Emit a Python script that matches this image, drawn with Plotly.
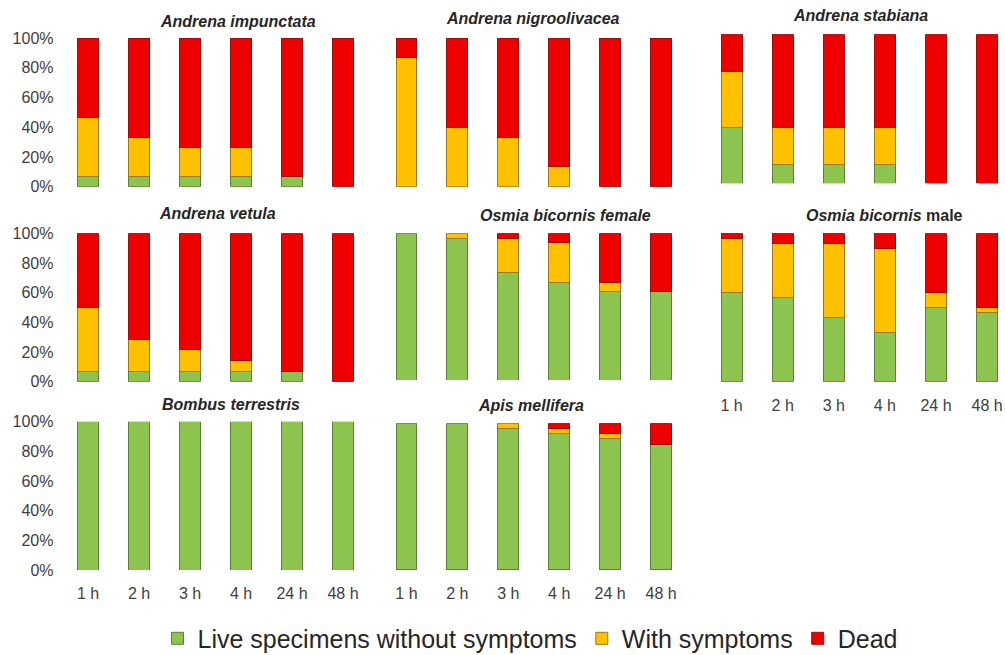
import plotly.graph_objects as go

times = ["1 h", "2 h", "3 h", "4 h", "24 h", "48 h"]
pct_ticks = [0, 20, 40, 60, 80, 100]
pct_labels = ["0%", "20%", "40%", "60%", "80%", "100%"]

titles = [
    "<b><i>Andrena impunctata</i></b>",
    "<b><i>Andrena nigroolivacea</i></b>",
    "<b><i>Andrena stabiana</i></b>",
    "<b><i>Andrena vetula</i></b>",
    "<b><i>Osmia bicornis female</i></b>",
    "<b><i>Osmia bicornis</i> male</b>",
    "<b><i>Bombus terrestris</i></b>",
    "<b><i>Apis mellifera</i></b>",
]

# percentages: live without symptoms, with symptoms, dead
impunctata_live = [6.7, 6.7, 6.7, 6.7, 6.7, 0]
impunctata_sympt = [40.0, 26.7, 20.0, 20.0, 0, 0]
impunctata_dead = [53.3, 66.6, 73.3, 73.3, 93.3, 100]

nigro_live = [0, 0, 0, 0, 0, 0]
nigro_sympt = [86.7, 40.0, 33.3, 13.3, 0, 0]
nigro_dead = [13.3, 60.0, 66.7, 86.7, 100, 100]

stabiana_live = [37.5, 12.5, 12.5, 12.5, 0, 0]
stabiana_sympt = [37.5, 25.0, 25.0, 25.0, 0, 0]
stabiana_dead = [25.0, 62.5, 62.5, 62.5, 100, 100]

vetula_live = [7.1, 7.1, 7.1, 7.1, 7.1, 0]
vetula_sympt = [42.9, 21.4, 14.3, 7.1, 0, 0]
vetula_dead = [50.0, 71.5, 78.6, 85.8, 92.9, 100]

osmia_f_live = [100, 96.7, 73.3, 66.7, 60.0, 60.0]
osmia_f_sympt = [0, 3.3, 23.3, 26.7, 6.7, 0]
osmia_f_dead = [0, 0, 3.4, 6.6, 33.3, 40.0]

osmia_m_live = [60.0, 56.7, 43.3, 33.3, 50.0, 46.7]
osmia_m_sympt = [36.7, 36.6, 50.0, 56.7, 10.0, 3.3]
osmia_m_dead = [3.3, 6.7, 6.7, 10.0, 40.0, 50.0]

bombus_live = [100, 100, 100, 100, 100, 100]
bombus_sympt = [0, 0, 0, 0, 0, 0]
bombus_dead = [0, 0, 0, 0, 0, 0]

apis_live = [100, 100, 96.4, 92.9, 89.3, 85.7]
apis_sympt = [0, 0, 3.6, 3.6, 3.6, 0]
apis_dead = [0, 0, 0, 3.5, 7.1, 14.3]

series_names = ["Live specimens without symptoms", "With symptoms", "Dead"]
colors = ["#8DC450", "#FFC000", "#EE0000"]
edges = ["#5E7F38", "#9A7A10", "#9A1010"]

panels = [
    (impunctata_live, impunctata_sympt, impunctata_dead),
    (nigro_live, nigro_sympt, nigro_dead),
    (stabiana_live, stabiana_sympt, stabiana_dead),
    (vetula_live, vetula_sympt, vetula_dead),
    (osmia_f_live, osmia_f_sympt, osmia_f_dead),
    (osmia_m_live, osmia_m_sympt, osmia_m_dead),
    (bombus_live, bombus_sympt, bombus_dead),
    (apis_live, apis_sympt, apis_dead),
]

W, H = 1005, 655
# pixel layout (left, right, xrange_max)
cols = {1: (62.5, 368.5, 5.5), 2: (381, 686.5, 5.5), 3: (706, 1005, 5.35)}
pos = [
    (1, 38, 186.7), (2, 38, 186.7), (3, 34.3, 183.3),
    (1, 233.3, 381.7), (2, 233.3, 380), (3, 233.3, 381.7),
    (1, 421.7, 570), (2, 423.3, 570),
]
title_pos = [(238, 21), (533, 19), (860, 15), (217, 213), (565, 215), (884, 215), (231, 404), (531, 405)]
show_x = [False, False, False, False, False, True, True, True]
show_y = [True, False, False, True, False, False, True, False]

fig = go.Figure()
layout = {}
for i, (vals, (c, top, bot)) in enumerate(zip(panels, pos)):
    k = i + 1
    xa = "x" if k == 1 else f"x{k}"
    ya = "y" if k == 1 else f"y{k}"
    for s in range(3):
        yv = [v if v > 0 else None for v in vals[s]]
        fig.add_trace(go.Bar(
            x=times, y=yv, name=series_names[s],
            marker=dict(color=colors[s], line=dict(color=edges[s], width=1)),
            xaxis=xa, yaxis=ya, showlegend=(k == 1), legendgroup=series_names[s],
        ))
    l, r, xmax = cols[c]
    layout[f"xaxis{k if k > 1 else ''}"] = dict(
        domain=[l / W, r / W], anchor=ya, range=[-0.5, xmax],
        showticklabels=show_x[i], showline=False, showgrid=False, zeroline=False,
        ticks="", tickfont=dict(size=16, color="#404040"), fixedrange=True,
        automargin=False, ticklabelstandoff=12,
    )
    layout[f"yaxis{k if k > 1 else ''}"] = dict(
        domain=[1 - bot / H, 1 - top / H], anchor=xa, range=[0, 100],
        tickmode="array", tickvals=pct_ticks, ticktext=pct_labels,
        showticklabels=show_y[i], showline=False, showgrid=False, zeroline=False,
        ticks="", tickfont=dict(size=16, color="#404040"), fixedrange=True,
        automargin=False, ticklabelstandoff=8,
    )

annotations = []
for t, (tx, ty) in zip(titles, title_pos):
    annotations.append(dict(
        text=t, x=tx / W, y=1 - ty / H, xref="paper", yref="paper",
        xanchor="center", yanchor="middle", showarrow=False,
        font=dict(size=16, color="#262626", family="Liberation Sans, Arial, sans-serif"),
    ))

fig.update_layout(
    **layout,
    annotations=annotations,
    barmode="stack", bargap=0.59,
    width=W, height=H,
    margin=dict(l=0, r=0, t=0, b=0, autoexpand=False),
    paper_bgcolor="white", plot_bgcolor="white",
    font=dict(family="Liberation Sans, Arial, sans-serif", color="#404040"),
    legend=dict(
        orientation="h", x=530 / W, y=-0.01, xanchor="center", yanchor="bottom",
        font=dict(size=25, color="#262626"), traceorder="normal",
        itemwidth=30, tracegroupgap=0,
    ),
)

fig.write_html(
    "out.html",
    config={"displayModeBar": False},
    post_script="document.body.style.margin='0px';document.body.style.overflow='hidden';",
)
